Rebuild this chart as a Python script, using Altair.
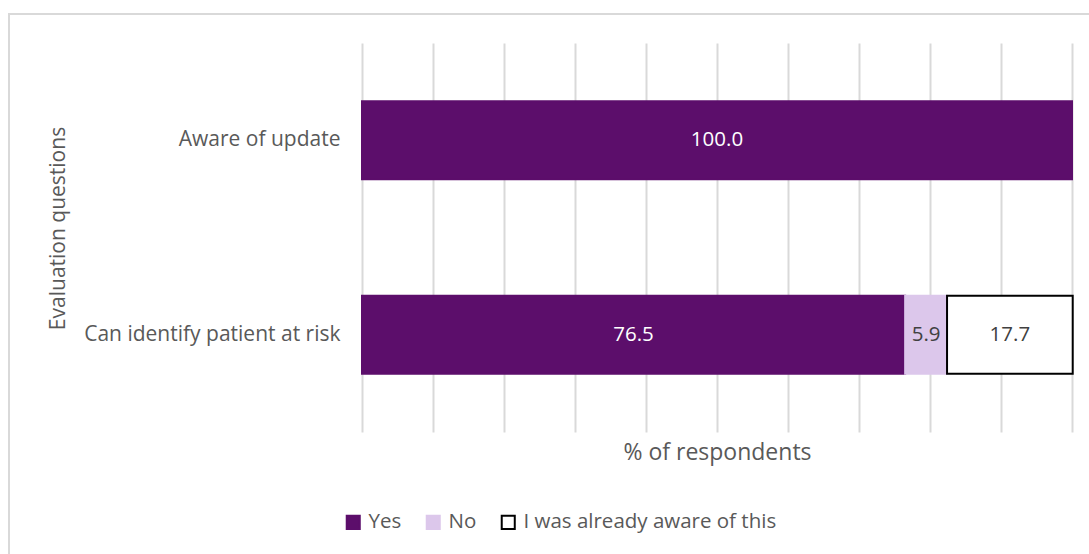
import altair as alt
import pandas as pd

questions = ["Aware of update", "Can identify patient at risk", "Can identify patient at risk", "Can identify patient at risk"]
responses = ["Yes", "Yes", "No", "I was already aware of this"]
values = [100.0, 76.5, 5.9, 17.7]
order = [0, 0, 1, 2]

resp_domain = ["Yes", "No", "I was already aware of this"]
fill_range = ["#5C0E6B", "#DCC7EB", "#FFFFFF"]
stroke_range = ["#5C0E6B", "#DCC7EB", "#000000"]
q_order = ["Aware of update", "Can identify patient at risk"]

df = pd.DataFrame({"question": questions, "response": responses, "value": values, "ord": order})

FONT = "Open Sans"
GREY = "#595959"

base = alt.Chart(df).transform_stack(
    stack="value", groupby=["question"], as_=["x0", "x1"], sort=[alt.SortField("ord")]
).transform_calculate(
    mid="(datum.x0 + datum.x1) / 2",
    lbl="format(datum.value, '.1f')",
)

y_enc = alt.Y("question:N", sort=q_order,
              scale=alt.Scale(paddingInner=0.6, paddingOuter=0.3),
              axis=alt.Axis(title="Evaluation questions", ticks=False, domain=False,
                            labelPadding=22, labelFontSize=21, labelColor=GREY, labelFont=FONT,
                            labelLimit=400,
                            titleFontSize=21, titleColor=GREY, titleFont=FONT, titleFontWeight="normal",
                            titleX=-294, titleY=185, titleAngle=-90))

bars = base.mark_bar(strokeWidth=2).encode(
    x=alt.X("x0:Q", scale=alt.Scale(domain=[0, 100], nice=False, clamp=False),
            axis=alt.Axis(title="% of respondents", labels=False, ticks=False, domain=False,
                          values=list(range(0, 101, 10)), grid=True, gridColor="#D9D9D9", gridWidth=2,
                          titleFontSize=23, titleColor=GREY, titleFont=FONT, titleFontWeight="normal",
                          titlePadding=9)),
    x2="x1:Q",
    y=y_enc,
    fill=alt.Fill("response:N", scale=alt.Scale(domain=resp_domain, range=fill_range),
                  legend=alt.Legend(title=None, orient="none", legendX=-19, legendY=469,
                                    direction="horizontal", symbolType="square", symbolSize=170,
                                    symbolStrokeWidth=2, labelFontSize=20.5, labelColor=GREY,
                                    labelFont=FONT, columnPadding=20, labelOffset=5, labelLimit=400)),
    stroke=alt.Stroke("response:N", scale=alt.Scale(domain=resp_domain, range=stroke_range), legend=None),
)

text = base.mark_text(fontSize=20.5, font=FONT).encode(
    x=alt.X("mid:Q"),
    y=alt.Y("question:N", sort=q_order),
    text="lbl:N",
    color=alt.condition(alt.datum.response == "Yes", alt.value("#FFFFFF"), alt.value("#404040")),
)

border = alt.Chart(df).mark_rect(fill=None, stroke="#D9D9D9", strokeWidth=2, clip=False).encode(
    x=alt.value(-353), x2=alt.value(740), y=alt.value(-29), y2=alt.value(540)
)

chart = alt.layer(border, bars, text).properties(
    width=710, height=389,
    padding={"left": 362, "top": 43, "right": 17, "bottom": 122},
    autosize=alt.AutoSizeParams(type="none"),
).configure_view(stroke=None).configure_axisY(grid=False)

chart.save("out.html", embed_options={"renderer": "svg", "actions": False})
